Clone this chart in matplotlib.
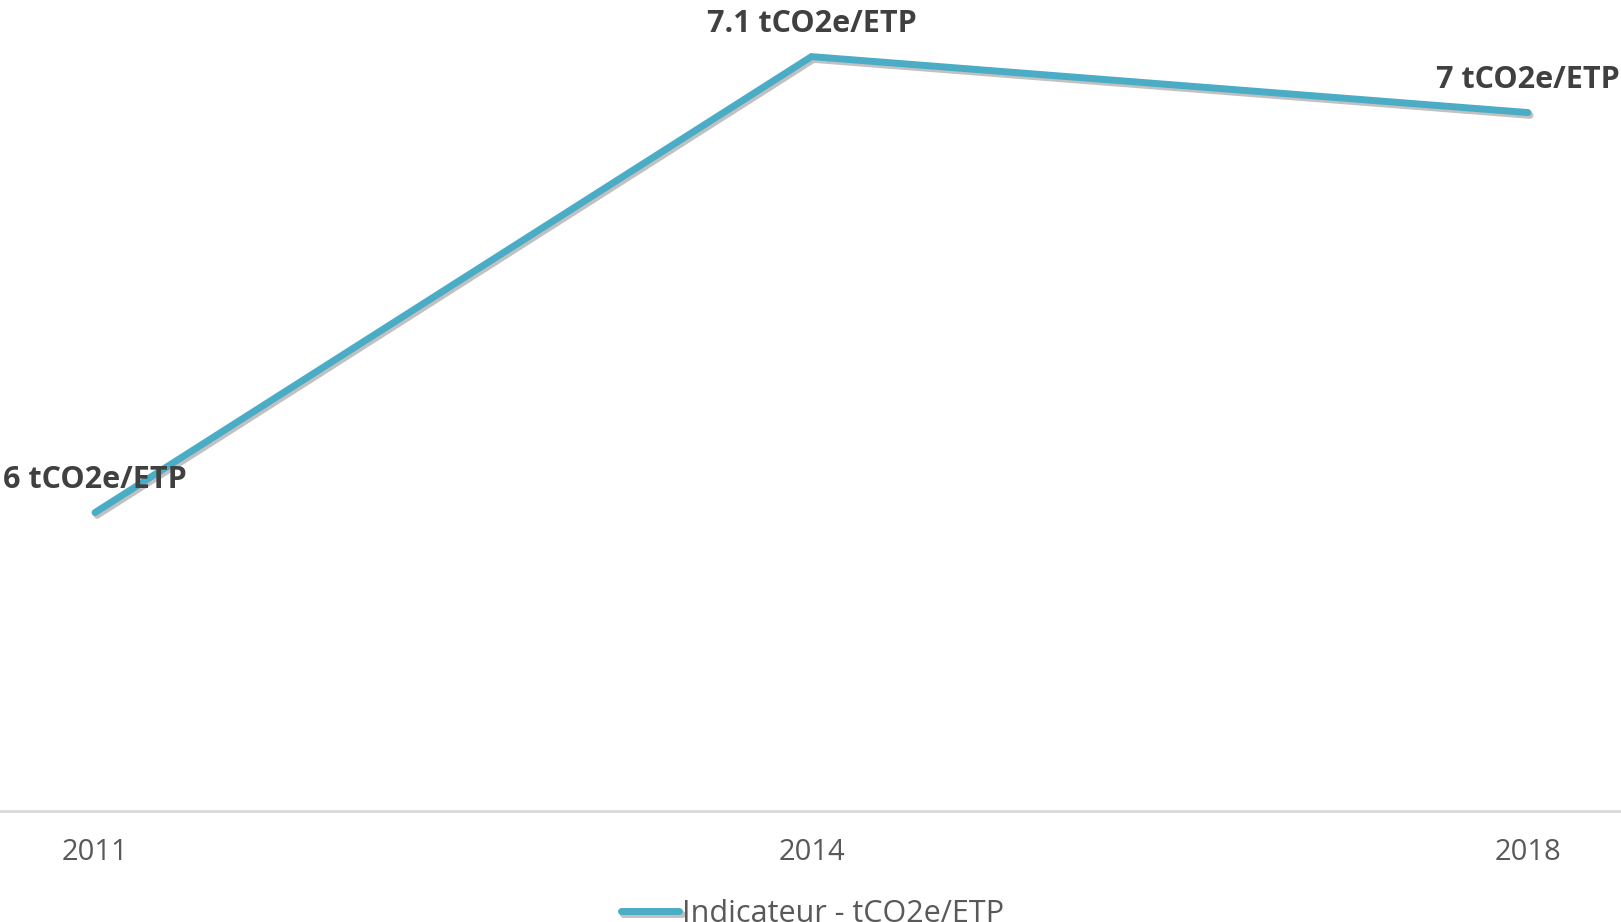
import matplotlib
matplotlib.use("Agg")
import matplotlib.pyplot as plt
import matplotlib.patheffects as pe

# data
years = ["2011", "2014", "2018"]
values = [6.0, 7.1, 6.965]
labels = ["6 tCO2e/ETP", "7.1 tCO2e/ETP", "7 tCO2e/ETP"]
series_name = "Indicateur - tCO2e/ETP"

LINE = "#4BACC6"
plt.rcParams["font.family"] = ["Open Sans", "DejaVu Sans"]

fig = plt.figure(figsize=(16.21, 9.22), dpi=100)
ax = fig.add_axes([0, 1 - 811 / 922, 1, 811 / 922])

x = list(range(len(years)))
ax.plot(x, values, color=LINE, lw=5, solid_capstyle="round",
        solid_joinstyle="miter", label=series_name,
        path_effects=[pe.SimpleLineShadow(offset=(1.5, -2), shadow_color="#777777",
                                          alpha=0.45),
                      pe.Normal()])

for xi, v, lab in zip(x, values, labels):
    ax.annotate(lab, (xi, v), xytext=(0, 33), textcoords="offset pixels",
                ha="center", va="center", fontsize=22, fontweight="bold",
                color="#404040")

ax.set_xlim(-95 / 716.5, (1621 - 95) / 716.5)
ax.set_ylim(5.28, 5.28 + 811 / 414.5)
ax.set_xticks(x)
ax.set_xticklabels(years, fontsize=21, color="#595959")
ax.tick_params(axis="x", length=0, pad=19.5)
ax.set_yticks([])
for s in ["top", "left", "right"]:
    ax.spines[s].set_visible(False)
ax.spines["bottom"].set_color("#D9D9D9")
ax.spines["bottom"].set_linewidth(2)

fig.legend(loc="center", bbox_to_anchor=(813 / 1621, 1 - 914 / 922),
           frameon=False, borderpad=0, fontsize=22, labelcolor="#595959",
           handlelength=1.9, handletextpad=0.1)

fig.savefig("out.png", dpi=100)
